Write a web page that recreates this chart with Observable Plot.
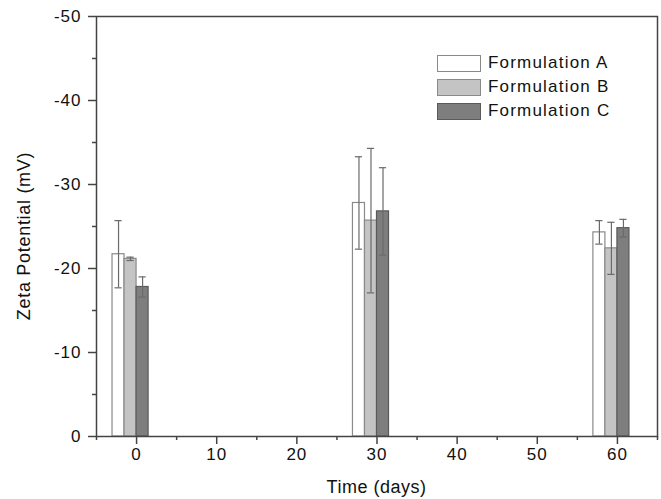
<!DOCTYPE html>
<html>
<head>
<meta charset="utf-8">
<script src="https://cdn.jsdelivr.net/npm/d3@7"></script>
<script src="https://cdn.jsdelivr.net/npm/@observablehq/plot@0.6"></script>
<style>
  html, body { margin: 0; padding: 0; background: #fff; }
  #wrap { position: relative; width: 661px; height: 499px; font-family: "Liberation Sans", Arial, sans-serif; color: #111; }
  #legend { position: absolute; left: 437px; top: 51px; }
  .row { display: flex; align-items: center; height: 24px; }
  .sw { width: 44px; height: 17px; box-sizing: border-box; border: 1.5px solid #777; margin-right: 7px; }
  .lab { font-size: 17px; letter-spacing: 1.2px; white-space: nowrap; }
  .title { position: absolute; font-size: 18px; white-space: nowrap; line-height: 1; }
  #xtitle { left: 376.5px; top: 478px; transform: translateX(-50%); letter-spacing: 0.5px; }
  #ytitle { left: 24px; top: 236px; transform: translate(-50%, -50%) rotate(-90deg); letter-spacing: 0.7px; }
</style>
</head>
<body>
<div id="wrap"></div>
<script>
// ---- data ----
const days = [0, 30, 60];
const formulations = ["Formulation A", "Formulation B", "Formulation C"];
const meanA = [-21.7, -27.8, -24.3];
const sdA   = [4.0, 5.5, 1.4];
const meanB = [-21.15, -25.7, -22.4];
const sdB   = [0.2, 8.6, 3.1];
const meanC = [-17.8, -26.8, -24.8];
const sdC   = [1.2, 5.2, 1.05];
const yTicks = [0, -10, -20, -30, -40, -50];
const xTicks = [0, 10, 20, 30, 40, 50, 60];
const xTitle = "Time (days)";
const yTitle = "Zeta Potential (mV)";

// ---- styles ----
const fills = ["#ffffff", "#c4c4c4", "#7e7e7e"];
const strokes = ["#8a8a8a", "#8a8a8a", "#5a5a5a"];
const barW = 1.5;

const means = [meanA, meanB, meanC];
const sds = [sdA, sdB, sdC];
const rows = [];
formulations.forEach((f, i) => {
  days.forEach((d, j) => {
    const x1 = d + (i - 2) * barW;
    rows.push({formulation: f, i, day: d, x1, x2: x1 + barW, c: x1 + barW / 2,
               mean: means[i][j], lo: means[i][j] - sds[i][j], hi: means[i][j] + sds[i][j]});
  });
});

const minorX = d3.range(-5, 66, 5).filter(v => v % 10 !== 0);
const minorY = [-5, -15, -25, -35, -45];

const chart = Plot.plot({
  width: 661,
  height: 499,
  marginLeft: 96,
  marginRight: 4,
  marginTop: 16,
  marginBottom: 63,
  style: {fontFamily: "Liberation Sans, Arial, sans-serif", fontSize: "17px", letterSpacing: "1px", color: "#111", background: "#fff"},
  x: {domain: [-5, 65]},
  y: {domain: [0, -50]},
  color: {domain: formulations, range: fills},
  marks: [
    Plot.rect(rows, {x1: "x1", x2: "x2", y1: 0, y2: "mean", fill: "formulation",
                     stroke: d => strokes[d.i], strokeWidth: 1.2}),
    Plot.ruleX(rows, {x: "c", y1: "lo", y2: "hi", stroke: "#6a6a6a", strokeWidth: 1.2}),
    Plot.ruleY(rows, {y: "hi", x1: d => d.c - 0.45, x2: d => d.c + 0.45, stroke: "#6a6a6a", strokeWidth: 1.2}),
    Plot.ruleY(rows, {y: "lo", x1: d => d.c - 0.45, x2: d => d.c + 0.45, stroke: "#6a6a6a", strokeWidth: 1.2}),
    Plot.axisX(xTicks, {tickSize: 8, tickPadding: 3, stroke: "#444", strokeWidth: 1.5, label: null}),
    Plot.axisX(minorX, {tickSize: 4, tickFormat: () => "", stroke: "#444", strokeWidth: 1.5, label: null}),
    Plot.axisY(yTicks, {tickSize: 8, tickPadding: 7, stroke: "#444", strokeWidth: 1.5,
                        tickFormat: d => d === 0 ? "0" : "-" + Math.abs(d), label: null}),
    Plot.axisY(minorY, {tickSize: 4, tickFormat: () => "", stroke: "#444", strokeWidth: 1.5, label: null}),
    Plot.frame({stroke: "#444", strokeWidth: 1.5})
  ]
});

const wrap = document.getElementById("wrap");
wrap.appendChild(chart);

const xt = document.createElement("div");
xt.className = "title"; xt.id = "xtitle"; xt.textContent = xTitle;
wrap.appendChild(xt);
const yt = document.createElement("div");
yt.className = "title"; yt.id = "ytitle"; yt.textContent = yTitle;
wrap.appendChild(yt);

const legend = document.createElement("div");
legend.id = "legend";
formulations.forEach((f, i) => {
  const row = document.createElement("div");
  row.className = "row";
  const sw = document.createElement("div");
  sw.className = "sw";
  sw.style.background = fills[i];
  sw.style.borderColor = strokes[i];
  const lab = document.createElement("span");
  lab.className = "lab";
  lab.textContent = f;
  row.appendChild(sw);
  row.appendChild(lab);
  legend.appendChild(row);
});
wrap.appendChild(legend);
</script>
</body>
</html>
